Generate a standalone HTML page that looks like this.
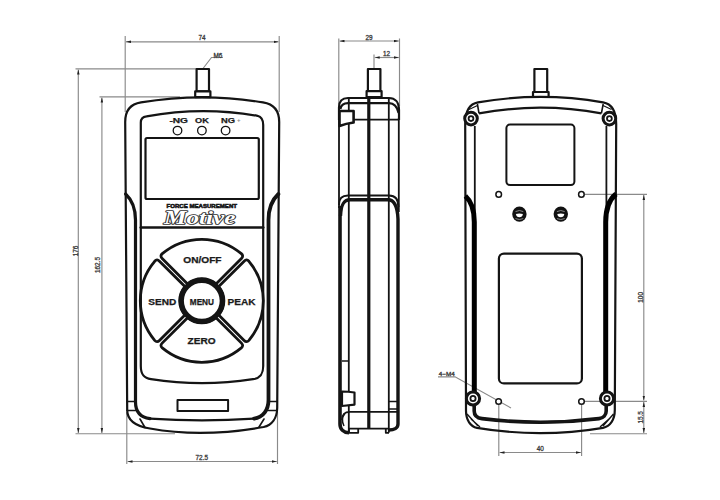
<!DOCTYPE html>
<html><head><meta charset="utf-8"><style>html,body{margin:0;padding:0;background:#fff;}svg{display:block;}</style></head>
<body><svg width="720" height="500" viewBox="0 0 720 500">
<rect width="720" height="500" fill="#fff"/>
<defs>
<marker id="ar" viewBox="0 0 10 6" refX="10" refY="3" markerWidth="5" markerHeight="3" orient="auto-start-reverse" markerUnits="userSpaceOnUse"><path d="M10,3 L0,0.5 L0,5.5 Z" fill="#222"/></marker>
</defs>
<!-- ================= DIMENSIONS ================= -->
<g stroke="#8a8a8a" stroke-width="1.15" fill="none">
  <!-- 74 -->
  <path d="M125.2,36 V112 M279.2,36 V112"/>
  <path d="M126,41.8 H278.5" marker-start="url(#ar)" marker-end="url(#ar)"/>
  <!-- M6 leader -->
  <path d="M203,68.5 L211.5,57.5 H223"/>
  <!-- 176 / 162.5 -->
  <path d="M75.5,68.8 H197 M99.5,96.8 H180 M75.5,433.7 H175"/>
  <path d="M78.3,69.5 V433" marker-start="url(#ar)" marker-end="url(#ar)"/>
  <path d="M101.9,97.5 V433" marker-start="url(#ar)" marker-end="url(#ar)"/>
  <!-- 72.5 -->
  <path d="M126.8,412 V464 M277.5,412 V464"/>
  <path d="M127.5,461.5 H276.8" marker-start="url(#ar)" marker-end="url(#ar)"/>
  <!-- 29 -->
  <path d="M338.8,38.5 V106 M399.5,38.5 V106"/>
  <path d="M339.5,41 H398.8" marker-start="url(#ar)" marker-end="url(#ar)"/>
  <!-- 12 -->
  <path d="M374,54.5 V68"/>
  <path d="M374.7,57.5 H398.8" marker-start="url(#ar)" marker-end="url(#ar)"/>
  <!-- back: 100 / 15.5 -->
  <path d="M585,194.4 H647 M585,401.3 H647 M590,433.7 H647"/>
  <path d="M643.8,195 V400.6" marker-start="url(#ar)" marker-end="url(#ar)"/>
  <path d="M643.8,402 V433" marker-start="url(#ar)" marker-end="url(#ar)"/>
  <!-- 40 -->
  <path d="M498.8,405 V456 M581.6,405 V456"/>
  <path d="M499.5,452.5 H580.9" marker-start="url(#ar)" marker-end="url(#ar)"/>
  <!-- 4-M4 leader -->
  <path d="M438,376.8 H455 L511,408"/>
</g>
<g fill="#3a3a3a" stroke="#3a3a3a" stroke-width="0.3" font-family="Liberation Sans, sans-serif" font-size="6.4">
  <text x="202" y="40.2" text-anchor="middle">74</text>
  <text x="218" y="57.6" text-anchor="middle">M6</text>
  <text x="369" y="40" text-anchor="middle">29</text>
  <text x="386.5" y="55.6" text-anchor="middle">12</text>
  <text x="201.8" y="460" text-anchor="middle">72.5</text>
  <text x="540.3" y="451" text-anchor="middle">40</text>
  <text x="438.8" y="376.3" font-size="5.5" textLength="16" lengthAdjust="spacingAndGlyphs">4−M4</text>
  <text transform="translate(77.6,251) rotate(-90)" text-anchor="middle">176</text>
  <text transform="translate(100.1,265) rotate(-90)" text-anchor="middle">162.5</text>
  <text transform="translate(642.7,297.4) rotate(-90)" text-anchor="middle">100</text>
  <text transform="translate(642.7,417.3) rotate(-90)" text-anchor="middle">15.5</text>
</g>

<!-- ================= FRONT VIEW ================= -->
<g stroke="#141414" stroke-width="2.2" fill="none" stroke-linejoin="round" stroke-linecap="round">
  <!-- stud -->
  <rect x="196.6" y="69" width="12.4" height="22.4"/>
  <rect x="195.2" y="91.4" width="15.2" height="5.8" fill="#fff"/>
  <!-- outer body -->
  <path d="M141,102.4 Q202,92.2 263,102.4 C273.5,104 279.2,111 279.2,122 L277.2,408 C277,418 272,425 263.6,427 Q202,438 150,428.5 C134,426 127.2,420 127.2,410 L125.2,122 C125.2,111 130.5,104 141,102.4 Z"/>
  <!-- grips -->
  <path d="M125.6,194 C131,199 135.5,208 135.5,220 L135.5,402 C135.5,412 141,417.5 150,418.6" stroke-width="3.2"/>
  <path d="M254,418.6 C263,417.5 268.5,410 268.5,400 L268.5,220 C268.5,208 273,199 278.4,194" stroke-width="3.8"/>
  <path d="M150,418.6 Q202,422 254,418.6" stroke-width="2.2"/>
  <path d="M127,401.5 H135.5 M127,410.5 H135.5 M268.5,401.5 H277 M268.5,410.5 H277" stroke-width="1.5"/>
  <path d="M140,419 L145,427.5 M264,419 L259,427" stroke-width="1.6"/>
  <!-- bezel -->
  <path d="M146.5,116.4 Q202,106 257.5,115.8 C261.5,116.8 263.2,120 263.2,125 L263.2,366 C263.2,374 260.5,378.2 253,379.2 Q202,387.2 151,379.2 C143.5,378.2 140.8,374 140.8,366 L140.8,122.5 C140.8,119 142.5,117 146.5,116.4 Z"/>
  <path d="M140.8,227.5 H263.2" stroke-width="2.7"/>
  <!-- LCD -->
  <rect x="145.5" y="138" width="113.3" height="61" rx="1.5"/>
  <!-- LEDs -->
  <circle cx="177.5" cy="130.6" r="4.3" stroke-width="1.3"/>
  <circle cx="201.9" cy="130.6" r="4.3" stroke-width="1.3"/>
  <circle cx="225.6" cy="130.6" r="4.3" stroke-width="1.3"/>
  <!-- label window -->
  <rect x="177.5" y="400" width="50.6" height="11" stroke-width="2"/>
  <!-- buttons -->
  <g stroke-width="2.8">
  <path d="M187.59,283.90 L162.15,258.47 Q159.68,255.99 162.29,253.67 A61.5,61.5 0 0 1 241.31,253.67 Q243.92,255.99 241.45,258.47 L216.01,283.90 A22,22 0 0 0 187.59,283.90 Z"/>
<path d="M218.70,286.59 L244.13,261.15 Q246.61,258.68 248.93,261.29 A61.5,61.5 0 0 1 248.93,340.31 Q246.61,342.92 244.13,340.45 L218.70,315.01 A22,22 0 0 0 218.70,286.59 Z"/>
<path d="M216.01,317.70 L241.45,343.13 Q243.92,345.61 241.31,347.93 A61.5,61.5 0 0 1 162.29,347.93 Q159.68,345.61 162.15,343.13 L187.59,317.70 A22,22 0 0 0 216.01,317.70 Z"/>
<path d="M184.90,315.01 L159.47,340.45 Q156.99,342.92 154.67,340.31 A61.5,61.5 0 0 1 154.67,261.29 Q156.99,258.68 159.47,261.15 L184.90,286.59 A22,22 0 0 0 184.90,315.01 Z"/>
  </g>
  <circle cx="201.8" cy="300.8" r="20.5" stroke-width="5.2" fill="#fff"/>
</g>
<g fill="#1a1a1a" stroke="#1a1a1a" stroke-width="0.25" font-family="Liberation Sans, sans-serif" font-weight="bold" font-size="8.2">
  <text x="169.4" y="122.7" font-size="7.2" textLength="18.6" lengthAdjust="spacingAndGlyphs">-NG</text>
  <text x="195" y="122.7" font-size="7.2" textLength="13.8" lengthAdjust="spacingAndGlyphs">OK</text>
  <text x="221" y="122.7" font-size="7.2" textLength="14" lengthAdjust="spacingAndGlyphs">NG</text>
  <text x="237" y="122" font-size="6" fill="#888" stroke="none">+</text>
  <text x="183.3" y="263.3" textLength="38.2" lengthAdjust="spacingAndGlyphs">ON/OFF</text>
  <text x="148.2" y="304.5" textLength="28" lengthAdjust="spacingAndGlyphs">SEND</text>
  <text x="189.8" y="304.5" textLength="24.2" lengthAdjust="spacingAndGlyphs">MENU</text>
  <text x="227.6" y="304.5" textLength="28" lengthAdjust="spacingAndGlyphs">PEAK</text>
  <text x="187.5" y="343.9" textLength="28" lengthAdjust="spacingAndGlyphs">ZERO</text>
  <text x="166.5" y="208.3" font-size="5.6" stroke-width="0.55" textLength="70.5" lengthAdjust="spacingAndGlyphs">FORCE MEASUREMENT</text>
</g>
<g font-family="Liberation Serif, serif" font-weight="bold" font-style="italic" font-size="18.5">
<text x="164" y="223.6" textLength="71.5" lengthAdjust="spacingAndGlyphs" fill="#333" stroke="#333" stroke-width="1.7" stroke-linejoin="round">Motive</text>
<text x="164" y="223.6" textLength="71.5" lengthAdjust="spacingAndGlyphs" fill="#fff">Motive</text>
</g>

<!-- ================= SIDE VIEW ================= -->
<g stroke="#141414" stroke-width="2.2" fill="none" stroke-linejoin="round">
  <rect x="367.9" y="69" width="12.5" height="22.2"/>
  <rect x="366.6" y="91.2" width="15" height="6" fill="#fff"/>
  <!-- top cap -->
  <path d="M339,120 L339,107.5 C339,101 342,98 348,98 L389,98 C395,98 399,102 399,110 L399,120"/>
  <path d="M340.4,109 C341,105.5 343,103.2 348,103.2 L389,103.2 C394,103.2 397,106 398.6,113"/>
  <!-- verticals -->
  <path d="M339,118 V208 M398.8,118 V212" stroke-width="1.8"/>
  <path d="M348.8,98 V432.8 M388.8,98 V432.8" stroke-width="1.8"/>
  <path d="M368.8,97 V428.6" stroke-width="3.2"/>
  <path d="M353.6,119.6 H399" stroke-width="1.8"/>
  <!-- upper tab -->
  <path d="M339.5,111 H353.6 V122.5 Q346,123.5 339.5,126 Z" stroke-width="2.6" fill="#fff"/>
  <!-- mid band -->
  <path d="M339,205 C339,198 342,195.6 348,195.6 L389,195.6 C395,195.6 398.4,199 398.4,207" stroke-width="2"/>
  <path d="M340.5,216 C341,205 343.5,199.8 350,199.8 L388,199.8 C394,199.8 397.4,205 398,219 L398,424 C398,428 394,430 389,430" stroke-width="3.4"/>
  <path d="M340,206 L340,424 C340,429 343.5,432.6 349,432.8" stroke-width="3.6"/>
  <path d="M342,361 H349" stroke-width="1.5"/>
  <!-- lower tab -->
  <path d="M342,391.5 Q348,391.6 354.5,392.5 V404.6 L342,406 Z" stroke-width="2.2" fill="#fff"/>
  <!-- bottom -->
  <path d="M342,420 C342,414.5 344,411.8 350,411.8 L397,411.8" stroke-width="1.8"/>
  <path d="M388.8,401.6 H397.6 M388.8,409 H397.6" stroke-width="1.5"/>
  <path d="M349,428.6 H389 M349,428.6 V432.8 H358.2 V428.6 M385.8,428.6 V432.8 H389" stroke-width="1.8"/>
  <path d="M345,413.5 C342,417 342,422 344,426" stroke-width="1.4"/>
</g>

<!-- ================= BACK VIEW ================= -->
<g stroke="#141414" stroke-width="2.2" fill="none" stroke-linejoin="round">
  <rect x="534.4" y="69" width="12.8" height="23"/>
  <rect x="533" y="92" width="15.6" height="5" fill="#fff"/>
  <!-- outer -->
  <path d="M478,102.4 Q540.5,91.5 603,102.4 C611,103.8 616.2,110 616.2,124 L614.8,410 C614.8,420 610,426.5 603,427.8 Q540.5,438.5 477,427.8 C470.5,426.5 466,420 466,411 L465.2,124 C465.2,110 470,103.8 478,102.4 Z"/>
  <path d="M479,113.4 Q540.5,102 601.4,113.4"/>
  <path d="M477.4,104 L479,113.4 M603.2,104 L601.4,113.4" stroke-width="1.6"/>
  <path d="M469,109.5 L477.5,105.5 M611.5,109.5 L603,105.5" stroke-width="1.2"/>
  <!-- sides -->
  <path d="M474.8,126 V216 M606.4,126 V216" stroke-width="1.8"/>
  <path d="M465.4,196 C471,201 474.3,208 474.3,222 L474.3,392 M616,194 C610,199 605.7,207 605.7,222 L605.7,392" stroke-width="5" stroke="#000"/>
  <path d="M474.2,404 L474.2,411 C474.2,415 477,418 482,418.6 Q540.5,426 599,418.6 C603.5,418 606.2,415 606.2,411 L606.2,404" stroke-width="3.6"/>
  <path d="M467,414 L478,426 M613.5,414 L603,426 M471,419 L480,427 M609,419 L600,427" stroke-width="1.4"/>
  <path d="M482,418.6 Q540.5,426 599,418.6" stroke-width="2.2"/>
  <!-- screws -->
  <g stroke-width="3">
    <circle cx="471" cy="118.6" r="6.3" fill="#fff"/>
    <circle cx="609.4" cy="118.6" r="6.3" fill="#fff"/>
    <circle cx="473" cy="398.5" r="6.6" fill="#fff"/>
    <circle cx="607" cy="398.5" r="6.6" fill="#fff"/>
  </g>
  <g stroke-width="1.8">
    <circle cx="471" cy="118.6" r="2.4"/>
    <circle cx="609.4" cy="118.6" r="2.4"/>
    <circle cx="473" cy="398.5" r="2.6"/>
    <circle cx="607" cy="398.5" r="2.6"/>
  </g>
  <!-- windows -->
  <rect x="506.4" y="124.6" width="68" height="60.4" rx="3.5" stroke-width="2"/>
  <rect x="498.9" y="253.6" width="83" height="129.8" rx="5" stroke-width="2.2"/>
  <!-- holes -->
  <g stroke-width="1.5">
    <circle cx="498.7" cy="194.4" r="2.8" fill="#fff"/>
    <circle cx="581.4" cy="194.4" r="2.8" fill="#fff"/>
    <circle cx="498.6" cy="401.5" r="2.8" fill="#fff"/>
    <circle cx="581.5" cy="401.5" r="2.8" fill="#fff"/>
  </g>
  <!-- connectors -->
  <g stroke="none" fill="#111">
  <ellipse cx="519.4" cy="214.1" rx="7.2" ry="7.6"/>
  <ellipse cx="560.8" cy="214.1" rx="7.2" ry="7.6"/>
  </g>
  <g stroke="none" fill="#fff">
  <path d="M515.9,214 Q519.4,213 522.9,214 Q522.4,217.2 519.4,217.3 Q516.4,217.2 515.9,214 Z"/>
  <path d="M557.3,214 Q560.8,213 564.3,214 Q563.8,217.2 560.8,217.3 Q557.8,217.2 557.3,214 Z"/>
  </g>
  <g stroke="#fff" stroke-width="0.9" fill="none" opacity="0.55">
  <path d="M515.5,211.6 Q519.4,209.4 523.3,211.6 M515.5,218.6 Q519.4,220.4 523.3,218.6"/>
  <path d="M556.9,211.6 Q560.8,209.4 564.7,211.6 M556.9,218.6 Q560.8,220.4 564.7,218.6"/>
  </g>
</g>
</svg></body></html>
